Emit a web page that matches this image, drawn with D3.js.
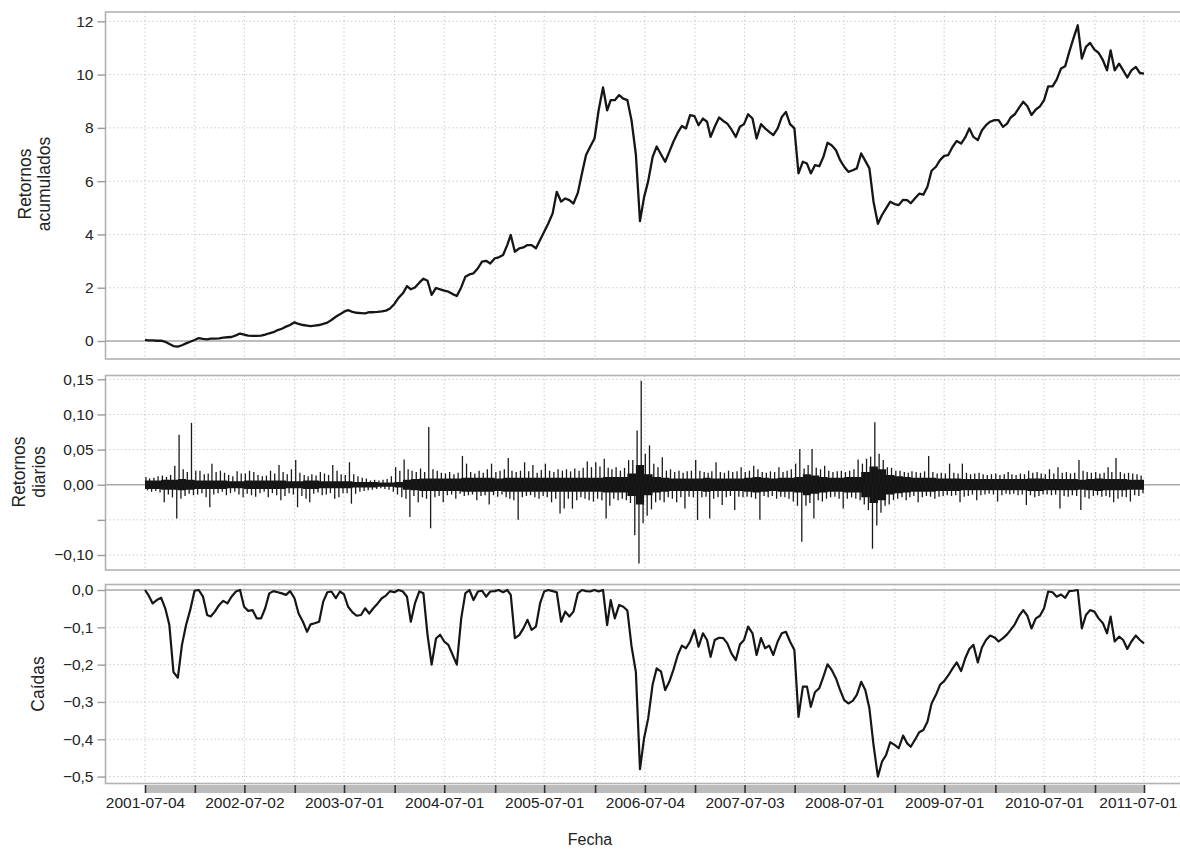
<!DOCTYPE html>
<html><head><meta charset="utf-8">
<script src="https://cdn.jsdelivr.net/npm/d3@7"></script>
<style>
body{margin:0;background:#fff;}
svg{display:block;font-family:"Liberation Sans",Arial,Helvetica,sans-serif;}
</style>
</head><body>
<svg id="c" width="1180" height="850"></svg>
<script>
// ---------------- DATA ----------------
const startDate = "2001-07-04", endDate = "2011-07-01";
const xTickDates = ["2001-07-04","2002-01-02","2002-07-02","2003-01-02","2003-07-01","2004-01-02","2004-07-01","2005-01-03","2005-07-01","2006-01-03","2006-07-04","2007-01-03","2007-07-03","2008-01-02","2008-07-01","2009-01-02","2009-07-01","2010-01-04","2010-07-01","2011-01-03","2011-07-01"];
const xLabelDates = ["2001-07-04","2002-07-02","2003-07-01","2004-07-01","2005-07-01","2006-07-04","2007-07-03","2008-07-01","2009-07-01","2010-07-01","2011-07-01"];
const cumTicks = [0,2,4,6,8,10,12];
const cumTickLabels = ["0","2","4","6","8","10","12"];
const retTicks = [-0.10,-0.05,0,0.05,0.10,0.15];
const retTickLabels = ["\u22120,10","","0,00","0,05","0,10","0,15"];
const ddTicks = [-0.5,-0.4,-0.3,-0.2,-0.1,0];
const ddTickLabels = ["\u22120,5","\u22120,4","\u22120,3","\u22120,2","\u22120,1","0,0"];

// Cumulative returns, semi-monthly (1st & 16th of each month), 2001-07-04 .. 2011-07-01
const cumulative = [
 0.04,0.02,0.02,0.01,0.01,-0.03,-0.11,-0.19,-0.21,-0.16,-0.09,-0.03,0.04,0.11,0.08,0.06,0.09,0.09,0.10,0.13,0.14,0.15,0.21,0.28,
 0.24,0.20,0.19,0.19,0.20,0.24,0.29,0.33,0.41,0.46,0.54,0.60,0.70,0.64,0.60,0.58,0.56,0.58,0.60,0.64,0.69,0.79,0.91,1.00,
 1.10,1.16,1.09,1.06,1.05,1.04,1.08,1.08,1.09,1.11,1.14,1.22,1.39,1.62,1.79,2.06,1.94,2.01,2.19,2.34,2.26,1.73,1.99,1.94,
 1.89,1.85,1.76,1.69,2.01,2.41,2.50,2.54,2.73,2.98,3.01,2.91,3.10,3.14,3.23,3.60,3.98,3.35,3.48,3.51,3.60,3.60,3.48,3.79,
 4.10,4.41,4.79,5.60,5.23,5.35,5.29,5.16,5.56,6.29,6.98,7.29,7.60,8.66,9.52,8.66,9.04,9.04,9.23,9.10,9.04,8.29,7.00,4.50,
 5.40,6.00,6.90,7.30,7.00,6.73,7.10,7.48,7.82,8.07,7.98,8.48,8.44,8.10,8.35,8.23,7.66,8.04,8.39,8.26,8.16,7.94,7.66,8.04,
 8.14,8.51,8.35,7.60,8.14,7.98,7.85,7.73,7.98,8.41,8.60,8.14,7.98,6.29,6.73,6.66,6.29,6.60,6.56,6.91,7.44,7.35,7.16,6.79,
 6.54,6.35,6.41,6.48,7.04,6.76,6.48,5.23,4.40,4.73,4.98,5.23,5.14,5.10,5.30,5.29,5.17,5.35,5.53,5.49,5.79,6.39,6.54,6.79,
 6.95,6.98,7.29,7.51,7.41,7.64,7.98,7.66,7.54,7.91,8.10,8.23,8.29,8.29,8.04,8.16,8.39,8.51,8.76,8.98,8.81,8.48,8.69,8.81,
 9.04,9.56,9.56,9.81,10.23,10.31,10.85,11.35,11.85,10.60,11.04,11.19,10.94,10.82,10.54,10.16,10.91,10.16,10.41,10.16,9.89,10.16,10.29,10.06,10.04
];

// Drawdowns, same semi-monthly dates
const drawdown = [
 0,-0.013,-0.036,-0.027,-0.021,-0.049,-0.094,-0.22,-0.235,-0.147,-0.094,-0.054,-0.002,0,-0.018,-0.067,-0.071,-0.058,-0.040,-0.029,-0.036,-0.018,-0.004,0,
 -0.045,-0.056,-0.054,-0.076,-0.076,-0.049,-0.009,-0.003,-0.006,-0.009,-0.013,-0.003,-0.022,-0.063,-0.085,-0.112,-0.092,-0.089,-0.085,-0.031,-0.006,-0.004,-0.022,-0.004,
 -0.012,-0.045,-0.060,-0.069,-0.067,-0.049,-0.063,-0.049,-0.036,-0.022,-0.015,-0.003,-0.006,0,-0.004,-0.018,-0.085,-0.036,-0.004,-0.009,-0.12,-0.20,-0.13,-0.12,
 -0.138,-0.147,-0.174,-0.20,-0.076,-0.009,0,-0.027,-0.004,-0.002,-0.018,-0.004,-0.003,0,-0.006,0,-0.013,-0.129,-0.121,-0.103,-0.080,-0.107,-0.098,-0.036,
 -0.004,0,-0.003,-0.006,-0.085,-0.058,-0.071,-0.058,-0.009,0,-0.003,-0.004,0,-0.004,0,-0.094,-0.027,-0.076,-0.040,-0.045,-0.055,-0.15,-0.22,-0.48,
 -0.397,-0.344,-0.254,-0.21,-0.219,-0.268,-0.246,-0.214,-0.174,-0.149,-0.156,-0.138,-0.107,-0.152,-0.116,-0.134,-0.179,-0.134,-0.128,-0.129,-0.143,-0.17,-0.188,-0.146,
 -0.134,-0.098,-0.116,-0.174,-0.129,-0.156,-0.149,-0.174,-0.138,-0.116,-0.112,-0.138,-0.161,-0.34,-0.259,-0.259,-0.313,-0.274,-0.263,-0.232,-0.199,-0.214,-0.237,-0.268,
 -0.295,-0.304,-0.297,-0.281,-0.246,-0.268,-0.317,-0.415,-0.50,-0.46,-0.442,-0.408,-0.415,-0.424,-0.39,-0.411,-0.42,-0.402,-0.381,-0.375,-0.353,-0.304,-0.281,-0.254,
 -0.244,-0.229,-0.21,-0.194,-0.217,-0.183,-0.158,-0.147,-0.194,-0.154,-0.134,-0.122,-0.127,-0.138,-0.129,-0.119,-0.107,-0.092,-0.069,-0.054,-0.069,-0.103,-0.076,-0.069,
 -0.049,-0.004,-0.006,-0.018,-0.012,-0.021,-0.003,-0.002,0,-0.103,-0.067,-0.054,-0.058,-0.076,-0.089,-0.116,-0.071,-0.138,-0.125,-0.134,-0.158,-0.138,-0.122,-0.134,-0.143
];

// Daily returns: highest and lowest daily return within each half-month (per mille)
const retHigh = [
 11,9,10,12,13,11,14,27,71,22,18,88,20,20,15,16,30,18,20,17,14,12,19,16,
 16,20,18,14,12,13,20,16,28,18,15,22,35,17,14,12,15,13,18,16,14,28,20,15,
 14,32,15,12,10,9,6,7,6,7,8,12,25,20,36,22,20,18,23,18,82,22,20,17,
 16,18,15,17,41,30,18,16,20,17,22,30,18,20,22,38,20,18,20,32,19,28,17,21,
 30,20,18,22,20,22,19,23,20,24,33,25,32,26,37,24,22,25,20,24,35,35,77,148,
 44,56,30,25,39,20,22,18,20,17,19,20,35,20,18,17,19,32,18,17,20,18,19,25,
 18,20,27,22,18,17,19,18,25,18,20,22,30,51,23,28,51,24,22,27,20,18,19,20,
 18,20,22,36,30,37,40,89,44,35,25,24,20,20,18,17,19,18,17,19,41,18,16,17,
 16,30,17,16,30,17,15,16,17,15,14,15,16,14,15,18,15,14,16,15,20,17,18,16,
 15,22,16,25,17,18,16,17,35,20,18,17,18,16,17,25,18,38,18,16,17,16,15,13
];
const retLow = [
 -8,-10,-9,-11,-25,-14,-18,-48,-20,-16,-13,-15,-14,-12,-18,-32,-14,-12,-10,-15,-12,-10,-14,-18,
 -13,-15,-17,-12,-10,-18,-12,-15,-22,-16,-12,-14,-32,-16,-20,-25,-13,-11,-15,-14,-12,-20,-18,-12,
 -12,-27,-13,-10,-9,-8,-7,-6,-5,-6,-7,-10,-14,-18,-20,-46,-16,-25,-18,-20,-62,-18,-16,-25,
 -15,-14,-20,-13,-16,-15,-14,-22,-16,-15,-28,-15,-17,-14,-18,-20,-22,-50,-18,-16,-15,-18,-20,-16,
 -18,-25,-20,-41,-34,-20,-34,-22,-18,-20,-22,-24,-20,-22,-48,-30,-20,-22,-20,-22,-26,-72,-112,-55,
 -44,-35,-25,-22,-25,-18,-20,-25,-18,-34,-17,-18,-50,-18,-17,-48,-20,-18,-29,-18,-16,-36,-17,-18,
 -17,-18,-20,-50,-16,-18,-16,-20,-17,-18,-20,-24,-30,-81,-30,-26,-48,-22,-24,-20,-18,-17,-20,-34,
 -20,-18,-20,-22,-28,-36,-91,-58,-40,-30,-28,-22,-20,-18,-22,-18,-16,-25,-18,-16,-17,-20,-17,-16,
 -15,-16,-15,-25,-17,-16,-14,-22,-15,-14,-13,-14,-24,-15,-13,-14,-13,-15,-14,-29,-15,-18,-16,-14,
 -14,-15,-14,-34,-16,-17,-15,-16,-36,-18,-20,-16,-15,-17,-16,-18,-25,-20,-17,-18,-24,-15,-16,-12
];
// Typical (dense) half-width of the daily-return band, monthly (per mille)
const retCore = [
 6,6,7,7,8,7,6,6,6,6,5,5,
 6,6,6,6,6,5,5,6,6,5,5,5,
 5,4,4,4,3,3,4,7,8,9,9,9,
 9,9,10,10,10,10,9,10,10,10,10,10,
 10,10,10,10,10,10,10,11,11,11,16,28,
 15,11,10,9,9,9,9,10,9,9,9,9,
 10,11,10,9,10,10,11,15,13,11,10,10,
 11,11,18,26,22,14,12,11,10,10,10,9,
 9,9,8,8,8,8,8,8,8,8,9,9,
 8,8,8,8,7,8,9,8,8,8,7,7
];

// ---------------- CHART ----------------
const svg = d3.select("#c");
const parse = d3.timeParse("%Y-%m-%d");
const fmtDate = d3.timeFormat("%Y-%m-%d");
function gridDate(k){ return k===0 ? parse(startDate) : new Date(2001, 6+Math.floor(k/2), k%2===0?1:16); }
function monthDate(m){ return m===0 ? parse(startDate) : new Date(2001, 6+m, 1); }

const L = 105.5, R = 1186;
const x = d3.scaleTime().domain([parse(startDate), parse(endDate)]).range([145, 1144]);
const yC = d3.scaleLinear().domain([0,12]).range([341,21.3]);
const yR = d3.scaleLinear().domain([-0.10,0.15]).range([555,379.3]);
const yD = d3.scaleLinear().domain([-0.5,0]).range([776.6,590]);

const panels = [
  {top:12, bottom:359, y:yC, ticks:cumTicks, labels:cumTickLabels},
  {top:375.5, bottom:570, y:yR, ticks:retTicks, labels:retTickLabels},
  {top:584.5, bottom:783.5, y:yD, ticks:ddTicks, labels:ddTickLabels}
];
const gridColor = "#c4c4c4", frameColor = "#b2b2b2";

panels.forEach(p => {
  const g = svg.append("g");
  g.selectAll(".vg").data(xTickDates.map(parse)).join("line")
    .attr("x1", d=>x(d)).attr("x2", d=>x(d)).attr("y1", p.top).attr("y2", p.bottom)
    .attr("stroke", gridColor).attr("stroke-width", 1).attr("stroke-dasharray", "1.3,2.6");
  g.selectAll(".hg").data(p.ticks.filter(t=>t!==0)).join("line")
    .attr("x1", L).attr("x2", R).attr("y1", d=>p.y(d)).attr("y2", d=>p.y(d))
    .attr("stroke", gridColor).attr("stroke-width", 1).attr("stroke-dasharray", "1.3,2.6");
  g.append("line").attr("x1", L).attr("x2", R).attr("y1", p.y(0)).attr("y2", p.y(0))
    .attr("stroke", "#a9a9a9").attr("stroke-width", 1.6);
  p.g = g;
});

// Cumulative returns line
panels[0].g.append("path").datum(cumulative)
  .attr("d", d3.line().x((d,k)=>x(gridDate(k))).y(d=>yC(d)))
  .attr("fill","none").attr("stroke","#161616").attr("stroke-width",2.3).attr("stroke-linejoin","round");

// Daily returns
const rg = panels[1].g.append("g");
rg.append("path").datum(retCore.concat([retCore[retCore.length-1]]))
  .attr("d", d3.area().curve(d3.curveStepAfter)
     .x((d,m)=>x(m>=retCore.length ? parse(endDate) : monthDate(m)))
     .y0(d=>yR(-d/1000)).y1(d=>yR(d/1000)))
  .attr("fill","#141414");
retHigh.forEach((h,k)=>{
  const x0 = x(gridDate(k)), x1 = x(gridDate(k+1));
  const xh = x0 + (x1-x0)*0.3, xl = x0 + (x1-x0)*0.75;
  rg.append("line").attr("x1",xh).attr("x2",xh).attr("y1",yR(0)).attr("y2",yR(h/1000))
    .attr("stroke","#1a1a1a").attr("stroke-width",1.3);
  rg.append("line").attr("x1",xl).attr("x2",xl).attr("y1",yR(0)).attr("y2",yR(retLow[k]/1000))
    .attr("stroke","#1a1a1a").attr("stroke-width",1.3);
});

// Drawdown line
panels[2].g.append("path").datum(drawdown)
  .attr("d", d3.line().x((d,k)=>x(gridDate(k))).y(d=>yD(d)))
  .attr("fill","none").attr("stroke","#161616").attr("stroke-width",2.2).attr("stroke-linejoin","round");

// Frames and y axes
panels.forEach(p => {
  svg.append("rect").attr("x", L).attr("y", p.top).attr("width", R-L).attr("height", p.bottom-p.top)
    .attr("fill","none").attr("stroke", frameColor).attr("stroke-width", 1.6);
  const ax = svg.append("g").attr("transform", `translate(${L},0)`)
    .call(d3.axisLeft(p.y).tickValues(p.ticks).tickFormat((d,i)=>p.labels[i]).tickSize(8).tickPadding(4));
  ax.select(".domain").remove();
  ax.selectAll(".tick line").attr("stroke","#9c9c9c").attr("stroke-width",1.4);
  ax.selectAll(".tick text").attr("fill","#222").style("font-size","15.5px");
});

// X axis with gray band
svg.append("rect").attr("x", x(parse(startDate))).attr("y", 785)
  .attr("width", x(parse(endDate))-x(parse(startDate))).attr("height", 8).attr("fill", "#bcbcbc");
const labelSet = new Set(xLabelDates);
const xa = svg.append("g").attr("transform","translate(0,785)")
  .call(d3.axisBottom(x).tickValues(xTickDates.map(parse))
    .tickFormat(d => labelSet.has(fmtDate(d)) ? fmtDate(d) : "").tickSize(8).tickPadding(4));
xa.select(".domain").remove();
xa.selectAll(".tick line").attr("stroke","#333").attr("stroke-width",1.6);
xa.selectAll(".tick text").attr("fill","#222").style("font-size","15.5px");
// keep the last date label inside the picture
xa.selectAll(".tick text").each(function(d){
  const w = this.getComputedTextLength();
  const over = x(d) + w/2 - 1177;
  if (over > 0) d3.select(this).attr("dx", -over);
});

// Axis titles
function vtitle(text, bx, cy){
  svg.append("text").attr("transform",`translate(${bx},${cy}) rotate(-90)`)
    .attr("text-anchor","middle").style("font-size","17.5px").attr("fill","#222").text(text);
}
vtitle("Retornos", 31, 184);
vtitle("acumulados", 50, 184);
vtitle("Retornos", 25, 472);
vtitle("diarios", 45, 472);
vtitle("Caídas", 44, 684);
svg.append("text").attr("x", 590).attr("y", 845).attr("text-anchor","middle")
  .style("font-size","16px").attr("fill","#222").text("Fecha");
</script>
</body></html>
